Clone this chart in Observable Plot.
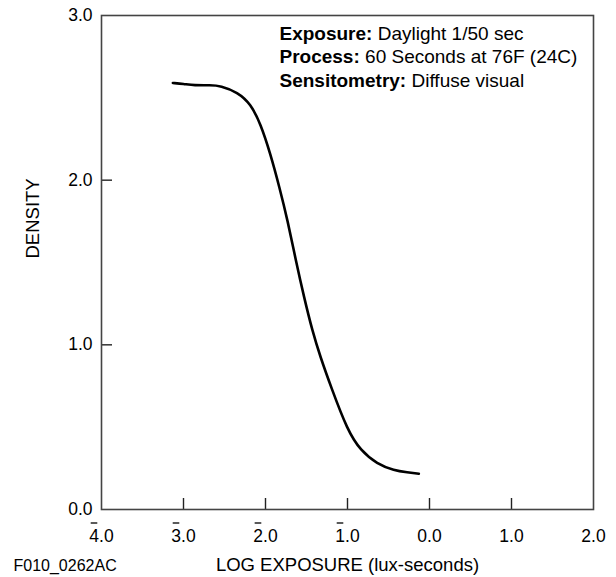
<!DOCTYPE html>
<html>
<head>
<meta charset="utf-8">
<script src="https://cdn.jsdelivr.net/npm/d3@7"></script>
<script src="https://cdn.jsdelivr.net/npm/@observablehq/plot@0.6"></script>
<style>
  html, body { margin: 0; padding: 0; background: #fff; }
  #chart { width: 616px; height: 577px; }
</style>
</head>
<body>
<div id="chart"></div>
<script>
// Characteristic curve data (log exposure, density)
const logExposure = [-3.13, -3.0, -2.87, -2.67, -2.55, -2.34, -2.18, -2.06, -1.94, -1.83, -1.73, -1.63, -1.53, -1.43, -1.33, -1.20, -1.00, -0.84, -0.64, -0.43, -0.27, -0.13];
const density     = [ 2.59,  2.585, 2.575, 2.577, 2.574, 2.534, 2.463, 2.342, 2.160, 1.957, 1.755, 1.512, 1.289, 1.087, 0.925, 0.743, 0.480, 0.358, 0.277, 0.237, 0.226, 0.217];

// Axis ticks and labels (bar notation for negative characteristics)
const xTicks = [-4, -3, -2, -1, 0, 1, 2];
const xTickLabels = ["4.0", "3.0", "2.0", "1.0", "0.0", "1.0", "2.0"];
const xTickBarred = [true, true, true, true, false, false, false];
const yTicks = [0, 1, 2, 3];
const yTickLabels = ["0.0", "1.0", "2.0", "3.0"];

// Annotation text
const noteLabels = ["Exposure:", "Process:", "Sensitometry:"];
const noteValues = ["Daylight 1/50 sec", "60 Seconds at 76F (24C)", "Diffuse visual"];

const xTitle = "LOG EXPOSURE (lux-seconds)";
const yTitle = "DENSITY";
const figureId = "F010_0262AC";

const curve = logExposure.map((x, i) => ({x, y: density[i]}));
const W = 616, H = 577, mL = 101, mR = 23, mT = 15, mB = 68;
const plotW = W - mL - mR, plotH = H - mT - mB;
const tickLen = 11;

const barSymbol = { draw(ctx, size) { ctx.moveTo(-3.3, 0); ctx.lineTo(3.3, 0); } };

const noteMarks = noteLabels.map((lab, i) => Plot.text([lab], {
  frameAnchor: "top-left", text: d => d, dx: 178, dy: 18 + i * 23.5,
  fontSize: 19, fontWeight: "bold", textAnchor: "start", lineAnchor: "middle",
  fill: "#000", className: "note" + i
}));

const chart = Plot.plot({
  width: W, height: H,
  marginLeft: mL, marginRight: mR, marginTop: mT, marginBottom: mB,
  style: { fontFamily: "'Liberation Sans', Arial, Helvetica, sans-serif", fontSize: "17.5px", color: "#000", background: "#fff" },
  x: { domain: [-4, 2] },
  y: { domain: [0, 3] },
  marks: [
    Plot.tickX(xTicks.slice(1, -1), { x: d => d, insetTop: plotH - tickLen, stroke: "#222", strokeWidth: 1.4 }),
    Plot.tickY(yTicks.slice(1, -1), { y: d => d, insetRight: plotW - tickLen, stroke: "#222", strokeWidth: 1.4 }),
    Plot.frame({ stroke: "#444", strokeWidth: 1.6 }),
    Plot.axisX({ ticks: xTicks, tickSize: 0, tickPadding: 20, fontSize: 17.5,
      tickFormat: d => xTickLabels[xTicks.indexOf(d)], label: null }),
    Plot.dot(xTicks.filter((d, i) => xTickBarred[i]), { x: d => d, frameAnchor: "bottom", symbol: barSymbol,
      stroke: "#000", strokeWidth: 1.3, dx: -7.5, dy: 13.5, r: 3 }),
    Plot.axisY({ ticks: yTicks, tickSize: 0, tickPadding: 9, fontSize: 17.5,
      tickFormat: d => yTickLabels[yTicks.indexOf(d)], label: null }),
    Plot.text([xTitle], { frameAnchor: "bottom", text: d => d, dy: 61, fontSize: 18.5 }),
    Plot.text([yTitle], { frameAnchor: "left", text: d => d, dx: -68, dy: -4, rotate: -90, fontSize: 18.5 }),
    Plot.text([figureId], { frameAnchor: "bottom-left", text: d => d, dx: -88, dy: 61, textAnchor: "start", fontSize: 16 }),
    Plot.line(curve, { x: "x", y: "y", curve: "basis", stroke: "#000", strokeWidth: 2.6 }),
    ...noteMarks
  ]
});

noteLabels.forEach((lab, i) => {
  d3.select(chart).selectAll("g.note" + i + " text").each(function () {
    d3.select(this).append("tspan").attr("font-weight", "normal").text(" " + noteValues[i]);
  });
});

document.getElementById("chart").appendChild(chart);
</script>
</body>
</html>
